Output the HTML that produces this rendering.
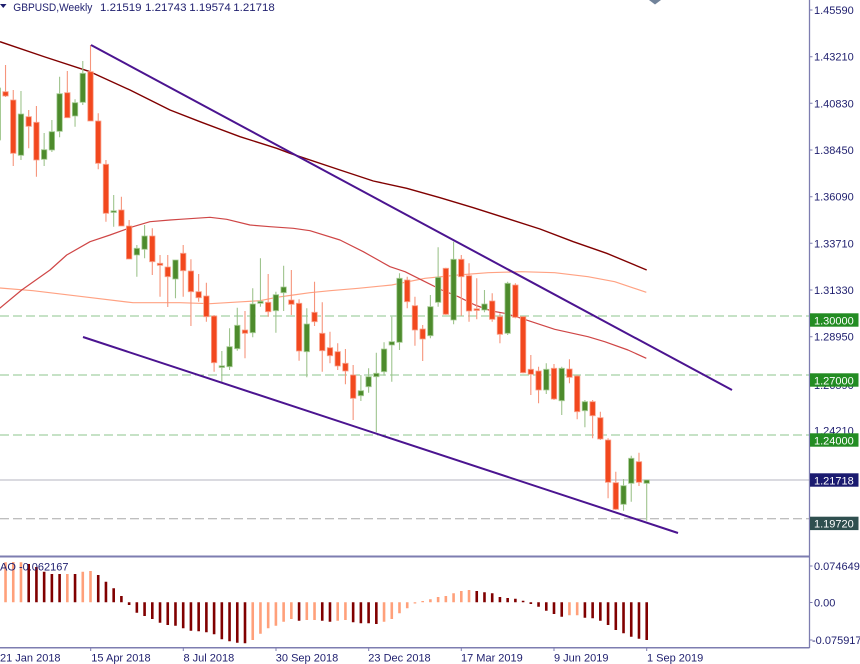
<!DOCTYPE html>
<html><head><meta charset="utf-8"><style>
html,body{margin:0;padding:0;background:#fff;}
svg{display:block;font-family:"Liberation Sans",sans-serif;}
</style></head><body>
<svg width="860" height="664" viewBox="0 0 860 664" xmlns="http://www.w3.org/2000/svg">
<rect width="860" height="664" fill="#fff"/>

<!-- horizontal levels -->
<g stroke-width="1" fill="none">
<path d="M0 316H809M0 375H809M0 435H809" stroke="#8cc48c" stroke-dasharray="9 4"/>
<path d="M0 518.8H809" stroke="#a8a8a8" stroke-dasharray="9 4"/>
<path d="M0 480H809" stroke="#cdcdd6" stroke-width="1.5"/>
</g>

<!-- moving averages -->
<g fill="none" stroke-linejoin="round">
<path stroke="#ffa283" stroke-width="1.2" d="M0 288 L33 290.7 L83 296.7 L133 302.7 L180 302.7 L210 303.7 L243.3 301.7 L260 300.7 L276.7 297.3 L293.3 295 L310 292.7 L330 290.7 L358.3 288.3 L391.7 285 L425 278.3 L458.3 275 L488 272.7 L521.3 271.7 L554.7 272.7 L588 276.7 L614.7 281.7 L646.3 292.3"/>
<path stroke="#cf4646" stroke-width="1.2" d="M-5 312 L0 308 L21.7 290 L50 270 L66.7 255 L90 241.7 L110 235 L133 226.7 L150 221.7 L170 220 L180 219.3 L210 217.3 L226.7 219.3 L250 225 L270 226.7 L293.3 228.3 L310 230.7 L340 240 L363.3 251.7 L390 266.7 L405 271.7 L425 281.7 L441.7 290 L458.3 296.7 L475 305 L491.7 311 L504.7 313.3 L521.3 318.3 L554.7 329.3 L588 336.7 L604.7 341.7 L628 350 L646.3 358.3"/>
<path stroke="#800000" stroke-width="1.4" d="M0 41.7 L45 57 L90 71.7 L130 90 L170 110 L200 121.7 L240 136.7 L276.7 148.3 L290 153.3 L340 170 L373.3 181 L406.7 188.3 L440 197.7 L473.3 207.7 L506.7 218.3 L540 229 L573.3 241.7 L606.7 253.3 L646.7 270"/>
</g>

<!-- wicks -->
<path fill="none" stroke="#f6957c" stroke-width="1.1" d="M5.53 65V97M13.25 90V166M28.7 110V148.3M36.43 106V176.7M67.33 71V117.7M90.5 45V121M98.23 113.3V169.3M105.95 160V221.7M121.4 196.7V226M129.13 220V259M152.3 228.3V275M160.03 255V296.7M167.75 255V307M183.2 245V296.7M190.93 259.3V326M198.65 274V301.7M206.38 282.7V321.7M214.1 315V371.7M245 311V358.3M268.18 274V316.7M291.35 270V315M299.08 299.3V360.7M314.53 281.7V326M322.25 302.3V371.7M329.98 331.7V363.3M337.7 343.3V370M345.43 349V384.3M353.15 365V420M407.23 276.7V308.3M414.95 296.7V345.7M422.68 325V361M445.85 267.7V315M461.3 255V315.7M469.03 263.3V321.7M476.75 278.3V319.3M492.2 293.3V321.7M499.93 313.3V343.3M515.38 283.3V318.3M523.1 316.7V373.3M530.83 355V395M538.55 366.7V403.3M554 364V400M569.45 359.3V383.3M577.18 375V419.3M592.63 400V438.3M600.35 411.7V440M608.08 438.3V498.3M615.8 471.7V510M638.98 452.7V486"/>
<path fill="none" stroke="#9fc48e" stroke-width="1.1" d="M-2.2 86V142M20.98 91V160M44.15 133V166M51.88 120V152M59.6 76.7V137.3M75.05 99.3V126.7M82.78 61V105M113.68 195V226.7M136.85 245V276.7M144.58 225V258.3M175.48 260V298.3M221.83 351V382.7M229.55 328.3V370M237.28 307.7V350.7M252.73 288.3V337.3M260.45 258.3V306.7M275.9 291.7V332.7M283.63 265.7V311M306.8 308.3V377.3M360.88 375V401M368.6 368.3V392.7M376.33 352.7V432.3M384.05 342.3V375.7M391.78 316.7V381.7M399.5 273.3V350M430.4 295V338.3M438.13 247.3V306.7M453.58 241.7V324.3M484.48 290V312.3M507.65 281.7V335M546.28 363.3V394M561.73 366.7V415M584.9 400V427.3M623.53 479V510.7M631.25 455.7V501.7M646.7 480V520.7"/>

<!-- bodies -->
<path fill="#f2481e" stroke="#f9a08a" stroke-width="0.8" d="M2.83 91.7h5.4V96h-5.4zM10.55 100h5.4V153.3h-5.4zM26 116.7h5.4V126.3h-5.4zM33.73 122.3h5.4V160h-5.4zM64.63 92.7h5.4V117.7h-5.4zM87.8 71.7h5.4V121h-5.4zM95.53 121h5.4V163.3h-5.4zM103.25 164.3h5.4V213.3h-5.4zM118.7 210h5.4V226h-5.4zM126.43 226h5.4V259h-5.4zM149.6 236h5.4V261.7h-5.4zM157.33 263.3h5.4V265.3h-5.4zM165.05 267h5.4V276.7h-5.4zM180.5 253.3h5.4V270.7h-5.4zM188.23 271h5.4V291.7h-5.4zM195.95 291.7h5.4V297.7h-5.4zM203.68 296h5.4V316.7h-5.4zM211.4 316h5.4V362.7h-5.4zM242.3 330h5.4V333.3h-5.4zM265.48 302.3h5.4V311.7h-5.4zM288.65 300h5.4V304.3h-5.4zM296.38 303.3h5.4V351h-5.4zM311.83 312.3h5.4V321.7h-5.4zM319.55 333.3h5.4V350.7h-5.4zM327.28 347.7h5.4V355.7h-5.4zM335 351.7h5.4V366h-5.4zM342.73 363.3h5.4V371h-5.4zM350.45 375h5.4V398.3h-5.4zM404.53 280h5.4V301.7h-5.4zM412.25 305.7h5.4V330h-5.4zM419.98 329h5.4V339h-5.4zM443.15 268.3h5.4V314.3h-5.4zM458.6 259.3h5.4V276.7h-5.4zM466.33 275.7h5.4V311h-5.4zM474.05 308.8h5.4V310.5h-5.4zM489.5 301h5.4V319.3h-5.4zM497.23 316.7h5.4V334.3h-5.4zM512.68 285h5.4V317.3h-5.4zM520.4 316.7h5.4V372.7h-5.4zM528.13 369.3h5.4V374.3h-5.4zM535.85 371h5.4V390h-5.4zM551.3 368.3h5.4V399h-5.4zM566.75 369h5.4V377.3h-5.4zM574.48 376h5.4V411.7h-5.4zM589.93 401.7h5.4V415.7h-5.4zM597.65 417.7h5.4V439h-5.4zM605.38 440h5.4V482.3h-5.4zM613.1 482.7h5.4V509.3h-5.4zM636.28 461.7h5.4V482.3h-5.4z"/>
<path fill="#4d8b2c" stroke="#a6cc94" stroke-width="0.8" d="M-4.9 88h5.4V140h-5.4zM18.28 114h5.4V155.3h-5.4zM41.45 149.7h5.4V159.3h-5.4zM49.18 131.7h5.4V150h-5.4zM56.9 93.7h5.4V131.3h-5.4zM72.35 102.7h5.4V116h-5.4zM80.08 73.3h5.4V102.3h-5.4zM110.98 210.8h5.4V212.5h-5.4zM134.15 248.3h5.4V255h-5.4zM141.88 236h5.4V249.3h-5.4zM172.78 260h5.4V279h-5.4zM219.13 365.8h5.4V367.5h-5.4zM226.85 346.7h5.4V366.7h-5.4zM234.58 325.3h5.4V348.7h-5.4zM250.03 304h5.4V332.7h-5.4zM257.75 301.3h5.4V303.3h-5.4zM273.2 294.7h5.4V310.7h-5.4zM280.93 287h5.4V292.7h-5.4zM304.1 324h5.4V351.7h-5.4zM358.18 390.7h5.4V395.7h-5.4zM365.9 376.7h5.4V386.7h-5.4zM373.63 373.3h5.4V376.7h-5.4zM381.35 349h5.4V371.7h-5.4zM389.08 341.7h5.4V345h-5.4zM396.8 278.3h5.4V342.3h-5.4zM427.7 306.7h5.4V335.7h-5.4zM435.43 277.3h5.4V302.3h-5.4zM450.88 259.3h5.4V320h-5.4zM481.78 304h5.4V310h-5.4zM504.95 283.3h5.4V333.3h-5.4zM543.58 369.3h5.4V390h-5.4zM559.03 368.3h5.4V400.7h-5.4zM582.2 401.7h5.4V410.7h-5.4zM620.83 485.7h5.4V504.3h-5.4zM628.55 458.3h5.4V483.3h-5.4zM644 480h5.4V483.3h-5.4z"/>

<!-- trend lines -->
<g stroke="#4b1490" stroke-width="2" fill="none">
<path d="M91 45L732 390"/>
<path d="M83 337L678 533"/>
</g>

<!-- AO histogram -->
<path fill="none" stroke="#ffa07a" stroke-width="2.6" d="M5.53 602.3V562.3M13.25 602.3V562M20.98 602.3V562.3M67.33 602.3V574M82.78 602.3V571.7M90.5 602.3V571M252.73 602.3V640M260.45 602.3V633.7M268.18 602.3V628.3M275.9 602.3V625.7M283.63 602.3V621.7M291.35 602.3V619M306.8 602.3V620M314.53 602.3V620M337.7 602.3V620.7M345.43 602.3V620M384.05 602.3V621.7M391.78 602.3V619M399.5 602.3V613.3M407.23 602.3V608.3M414.95 602.3V603.5M422.68 602.3V601M430.4 602.3V599.3M438.13 602.3V597M445.85 602.3V596M453.58 602.3V593.3M461.3 602.3V591M469.03 602.3V590M569.45 602.3V615.3M577.18 602.3V615.3"/>
<path fill="none" stroke="#800000" stroke-width="2.6" d="M28.7 602.3V564M36.43 602.3V567M44.15 602.3V571.7M51.88 602.3V574M59.6 602.3V574M75.05 602.3V574M98.23 602.3V575M105.95 602.3V581.7M113.68 602.3V588.3M121.4 602.3V596M129.13 602.3V605M136.85 602.3V612.7M144.58 602.3V616M152.3 602.3V619M160.03 602.3V622.7M167.75 602.3V625M175.48 602.3V625.7M183.2 602.3V628.3M190.93 602.3V630.7M198.65 602.3V631.3M206.38 602.3V632.3M214.1 602.3V634.3M221.83 602.3V639.3M229.55 602.3V641.3M237.28 602.3V642.7M245 602.3V643.3M299.08 602.3V620.7M322.25 602.3V620.7M329.98 602.3V621.7M353.15 602.3V622.3M360.88 602.3V623.3M368.6 602.3V623.3M376.33 602.3V624M476.75 602.3V591M484.48 602.3V592.3M492.2 602.3V593.3M499.93 602.3V597M507.65 602.3V598M515.38 602.3V598.7M523.1 602.3V600.7M530.83 602.3V604M538.55 602.3V606.7M546.28 602.3V610.7M554 602.3V614M561.73 602.3V616.7M584.9 602.3V617.7M592.63 602.3V618.3M600.35 602.3V620.7M608.08 602.3V625M615.8 602.3V630M623.53 602.3V633.3M631.25 602.3V636.7M638.98 602.3V638.7M646.7 602.3V640"/>

<!-- frame lines -->
<g stroke="#7d7db0" fill="none">
<path d="M809.5 0V648" stroke-width="1.3"/>
<path d="M0 556.5H809.5" stroke-width="2"/>
<path d="M0 647.8H809.5" stroke-width="1.5"/>
<path stroke-width="1" d="M809.5 10H812.5M809.5 56.7H812.5M809.5 103.3H812.5M809.5 150H812.5M809.5 196.7H812.5M809.5 243.3H812.5M809.5 290H812.5M809.5 336.7H812.5M809.5 566H812.5M809.5 602.5H812.5M809.5 640H812.5"/>
<path stroke-width="1" d="M-1 648V651M90.7 648V651M183.3 648V651M276 648V651M368.7 648V651M461.3 648V651M554 648V651M646.7 648V651"/>
</g>

<!-- top marker -->
<polygon points="649,0 661,0 655,4.5" fill="#71839a"/>

<!-- header -->
<polygon points="0,4 6.5,4 3.25,8" fill="#1e1e6e"/>
<g fill="#1e1e6e" font-size="11">
<text x="13.3" y="10.8" textLength="79" lengthAdjust="spacingAndGlyphs">GBPUSD,Weekly</text>
<text x="100" y="10.8" textLength="41.5" lengthAdjust="spacingAndGlyphs">1.21519</text>
<text x="145" y="10.8" textLength="41.5" lengthAdjust="spacingAndGlyphs">1.21743</text>
<text x="189.3" y="10.8" textLength="41.5" lengthAdjust="spacingAndGlyphs">1.19574</text>
<text x="233.3" y="10.8" textLength="41.5" lengthAdjust="spacingAndGlyphs">1.21718</text>
<text x="0" y="570.5">AO -0.062167</text>
</g>

<!-- right axis labels -->
<g fill="#1e1e6e" font-size="11">
<text x="814" y="14">1.45590</text>
<text x="814" y="60.7">1.43210</text>
<text x="814" y="107.3">1.40830</text>
<text x="814" y="154">1.38450</text>
<text x="814" y="200.7">1.36090</text>
<text x="814" y="247.3">1.33710</text>
<text x="814" y="294">1.31330</text>
<text x="814" y="340.7">1.28950</text>
<text x="814" y="389">1.26590</text>
<text x="814" y="434.3">1.24210</text>
<text x="814" y="570">0.074649</text>
<text x="814" y="606.7">0.00</text>
<text x="812" y="644">-0.075917</text>
</g>

<!-- level boxes -->
<rect x="810" y="313.3" width="48.5" height="13.4" fill="#238c23"/>
<rect x="810" y="373.3" width="48.5" height="13.4" fill="#238c23"/>
<rect x="810" y="433.3" width="48.5" height="13.4" fill="#238c23"/>
<rect x="810" y="473.3" width="48.5" height="13.4" fill="#1b1b70"/>
<rect x="810" y="516.7" width="48.5" height="13.4" fill="#2f4f4f"/>
<g fill="#ffffff" font-size="11">
<text x="814" y="324.3">1.30000</text>
<text x="814" y="384.3">1.27000</text>
<text x="814" y="444.3">1.24000</text>
<text x="814" y="484.3">1.21718</text>
<text x="814" y="527.7">1.19720</text>
</g>

<!-- date labels -->
<g fill="#1e1e6e" font-size="11">
<text x="0" y="661.5">21 Jan 2018</text>
<text x="91.3" y="661.5">15 Apr 2018</text>
<text x="183.5" y="661.5">8 Jul 2018</text>
<text x="275.8" y="661.5">30 Sep 2018</text>
<text x="368.3" y="661.5">23 Dec 2018</text>
<text x="461" y="661.5">17 Mar 2019</text>
<text x="554" y="661.5">9 Jun 2019</text>
<text x="647" y="661.5">1 Sep 2019</text>
</g>
</svg>
</body></html>
